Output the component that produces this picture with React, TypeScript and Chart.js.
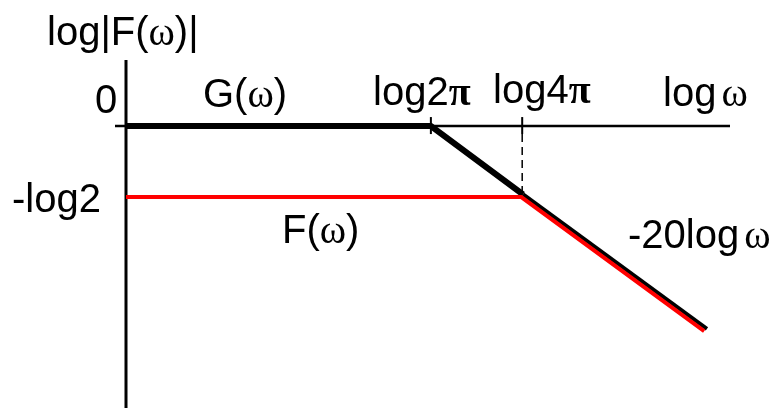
import React, { useEffect, useRef } from "react";
import { Chart, registerables } from "chart.js";

Chart.register(...registerables);

// ---- data (log10 ω on x, 20·log|·| on y) ----
const gX = [-0.207, 0.798, 1.102, 1.708];
const gY = [0, 0, -5.8, -17.2];
const fX = [-0.207, 1.096, 1.699];
const fY = [-6.02, -6.02, -17.38];
const tickX = [0.798, 1.099]; // log 2π, log 4π
const tickLabels = ["log2π", "log4π"];
const minusLog2 = -6.02;
const axisTitleY = "log|F(ω)|";
const axisTitleX = "logω";
const zeroLabel = "0";
const minusLog2Label = "-log2";
const gLabel = "G(ω)";
const fLabel = "F(ω)";
const slopeLabel = "-20logω";

const SANS = "Liberation Sans, Arial, sans-serif";
const SERIF = "Liberation Serif, Times New Roman, serif";
const SIZE = 40;

function fontFor(ch: string) {
  if (ch === "ω") return `${SIZE}px ${SERIF}`;
  if (ch === "π") return `bold ${SIZE}px ${SERIF}`;
  return `${SIZE}px ${SANS}`;
}

function drawRich(ctx: CanvasRenderingContext2D, text: string, x: number, y: number, gapBeforeOmega = 0) {
  ctx.save();
  ctx.fillStyle = "#000";
  ctx.textBaseline = "alphabetic";
  ctx.textAlign = "left";
  let cx = x;
  let buf = "";
  let curFont = "";
  const flush = () => {
    if (!buf) return;
    ctx.font = curFont;
    ctx.fillText(buf, cx, y);
    cx += ctx.measureText(buf).width;
    buf = "";
  };
  for (const ch of text) {
    const f = fontFor(ch);
    if (f !== curFont) {
      flush();
      curFont = f;
      if (ch === "ω") cx += gapBeforeOmega;
    }
    buf += ch;
  }
  flush();
  ctx.restore();
}

const overlay = {
  id: "overlay",
  beforeDatasetsDraw(chart: any) {
    const ctx: CanvasRenderingContext2D = chart.ctx;
    const xs = chart.scales.x;
    const ys = chart.scales.y;
    const area = chart.chartArea;
    const x0 = area.left;
    const y0 = ys.getPixelForValue(0);
    ctx.save();
    ctx.strokeStyle = "#000";
    ctx.lineCap = "butt";
    // vertical axis
    ctx.lineWidth = 3;
    ctx.beginPath();
    ctx.moveTo(x0, area.top);
    ctx.lineTo(x0, area.bottom);
    ctx.stroke();
    // horizontal axis
    ctx.lineWidth = 2.5;
    ctx.beginPath();
    ctx.moveTo(x0 - 11, y0);
    ctx.lineTo(area.right, y0);
    ctx.stroke();
    // ticks
    ctx.lineWidth = 2;
    tickX.forEach((v) => {
      const px = xs.getPixelForValue(v);
      ctx.beginPath();
      ctx.moveTo(px, y0 - 9);
      ctx.lineTo(px, y0 + 8);
      ctx.stroke();
    });
    // dashed drop at log 4π
    const pxd = xs.getPixelForValue(tickX[1]);
    ctx.lineWidth = 1.5;
    ctx.setLineDash([8, 5]);
    ctx.beginPath();
    ctx.moveTo(pxd, y0 + 8);
    ctx.lineTo(pxd, ys.getPixelForValue(minusLog2));
    ctx.stroke();
    ctx.restore();
  },
  afterDraw(chart: any) {
    const ctx: CanvasRenderingContext2D = chart.ctx;
    drawRich(ctx, axisTitleY, 47, 45);
    drawRich(ctx, zeroLabel, 95, 113);
    drawRich(ctx, gLabel, 203, 107);
    drawRich(ctx, tickLabels[0], 373, 105);
    drawRich(ctx, tickLabels[1], 493, 103);
    drawRich(ctx, axisTitleX, 663, 106, 5);
    drawRich(ctx, minusLog2Label, 12, 212);
    drawRich(ctx, fLabel, 282, 243);
    drawRich(ctx, slopeLabel, 628, 248, 5);
  },
};

export default function App() {
  const ref = useRef<HTMLCanvasElement>(null);
  useEffect(() => {
    document.body.style.margin = "0";
    const chart = new Chart(ref.current!, {
      type: "scatter",
      data: {
        datasets: [
          {
            label: "F",
            data: fX.map((x, i) => ({ x, y: fY[i] })),
            showLine: true,
            borderColor: "#ff0000",
            borderWidth: 4,
            pointRadius: 0,
            clip: false,
          },
          {
            label: "G",
            data: gX.map((x, i) => ({ x, y: gY[i] })),
            showLine: true,
            borderColor: "#000000",
            borderWidth: 6,
            pointRadius: 0,
            clip: false,
            segment: {
              borderWidth: (c: any) => (c.p0DataIndex >= 2 ? 4 : 6),
            },
          } as any,
        ],
      },
      options: {
        animation: false,
        responsive: false,
        layout: { padding: { left: 126, right: 47, top: 60, bottom: 0 } },
        plugins: { legend: { display: false }, tooltip: { enabled: false } },
        scales: {
          x: { type: "linear", min: -0.207, max: 1.784, display: false },
          y: { type: "linear", min: -23.9, max: 5.6, display: false },
        },
      },
      plugins: [overlay],
    });
    return () => chart.destroy();
  }, []);
  return (
    <div style={{ position: "fixed", left: 0, top: 0, width: 777, height: 408, background: "#fff" }}>
      <canvas ref={ref} width={777} height={408} />
    </div>
  );
}
